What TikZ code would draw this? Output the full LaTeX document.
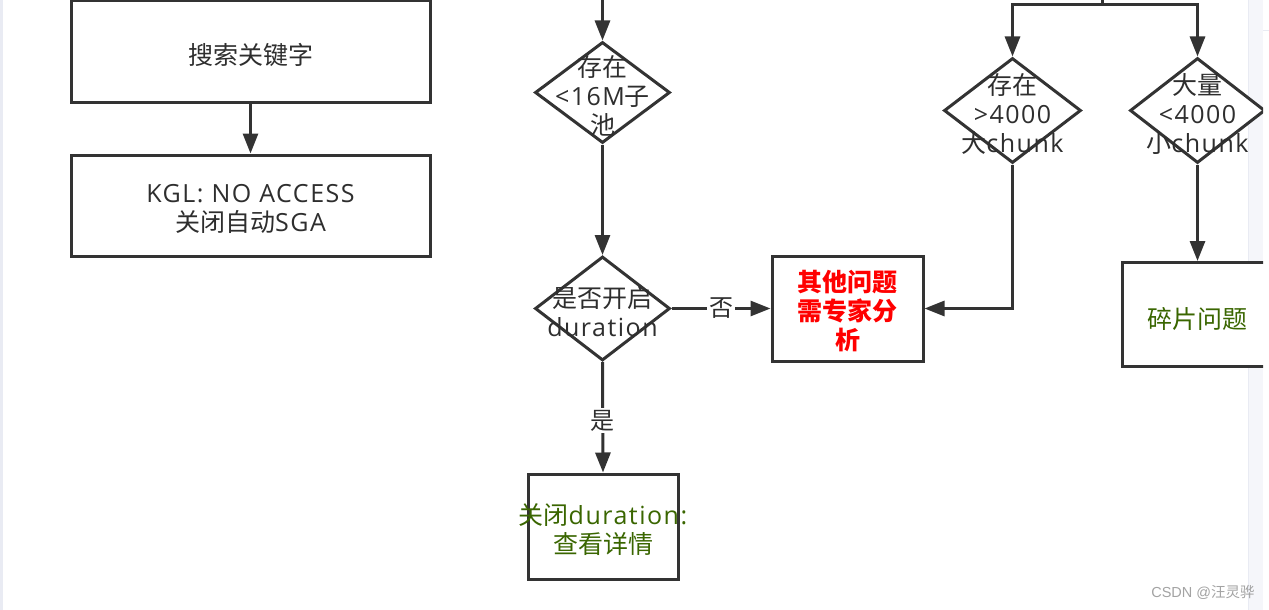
\documentclass[tikz,border=0pt]{standalone}
\usepackage{fontspec}
\setmainfont{Noto Sans CJK SC}
\newfontfamily\enfont[LetterSpace=6]{Open Sans}
\newfontfamily\wmfont{Liberation Sans}
\newcommand\en[1]{{\enfont #1}}
\usetikzlibrary{arrows.meta,shapes.geometric}
\definecolor{ln}{HTML}{333333}
\definecolor{tx}{HTML}{2E2E2E}
\definecolor{gr}{HTML}{3A6600}
\definecolor{rd}{HTML}{FF0000}
\definecolor{strip}{HTML}{F5F6FA}
\definecolor{stripl}{HTML}{E9EBF3}
\definecolor{wm}{HTML}{A3A3A3}
\begin{document}
\begin{tikzpicture}[x=1pt,y=-1pt,
  box/.style={draw=ln, line width=3pt, rectangle, inner sep=0pt, fill=white},
  dia/.style={draw=ln, line width=3pt, diamond, inner sep=0pt, fill=white, minimum width=136pt, minimum height=104pt},
  txt/.style={text=tx, align=center, font=\fontsize{25}{29}\selectfont, inner sep=0pt},
  arr/.style={draw=ln, line width=3pt, -{Triangle[length=20pt,width=15pt]}},
  conn/.style={draw=ln, line width=3pt},
  lab/.style={fill=white, inner sep=2pt, text=tx, font=\fontsize{24}{28}\selectfont},
]
\useasboundingbox (0,0) rectangle (1269,610);
% background
\fill[white] (0,0) rectangle (1269,610);
\fill[stripl] (0,0) rectangle (2.7,610);
\fill[strip] (1248,0) rectangle (1263,610);
\draw[stripl, line width=0.8pt] (1248,0) -- (1248,610);
\draw[stripl, line width=0.8pt] (1263,30) -- (1269,30);

\begin{scope}
\clip (0,-5) rectangle (1263,615);
% left column
\node[box, minimum width=359pt, minimum height=102pt] (b1) at (250.5,51.5) {};
\node[txt] (b1t) at (250.5,54.5) {搜索关键字};
\node[box, minimum width=359pt, minimum height=101pt] (b2) at (250.5,205.5) {};
\node[txt] (b2t) at (250.5,208.5) {\en{KGL: NO ACCESS}\\关闭自动\en{SGA}};
\draw[arr] (b1.south) -- (b2.north);

% middle column
\coordinate (top1) at (602.5,-3);
\node[dia, minimum width=135pt, minimum height=101pt] (d1) at (602.5,92.5) {};
\node[txt] (d1t) at (602.5,96) {存在\\\en{<16M}子\\池};
\node[dia, minimum width=135pt, minimum height=104pt] (d2) at (602.5,308.5) {};
\node[txt] (d2t) at (602.5,311.5) {是否开启\\\en{duration}};
\node[box, minimum width=151pt, minimum height=105pt] (other) at (847.5,308.5) {};
\node[txt, text=rd, font=\fontsize{25}{29}\selectfont\bfseries] (othert) at (847.5,311) {其他问题\\需专家分\\析};
\node[box, minimum width=150pt, minimum height=105pt] (db) at (603,526.5) {};
\node[txt, text=gr] (dbt) at (603,530) {关闭\en{duration:}\\查看详情};
\draw[arr] (top1) -- (d1.north);
\draw[arr] (d1.south) -- (d2.north);
\draw[arr] (d2.east) -- node[lab] (no) {否} (other.west);
\draw[arr] (d2.south) -- node[lab, pos=0.53] (yes) {是} (db.north);

% right side
\coordinate (top2) at (1102,-3);
\coordinate (jn) at (1102,5);
\node[dia, minimum width=137pt, minimum height=105pt] (d3) at (1012.5,110.5) {};
\node[txt] (d3t) at (1012.5,114) {存在\\\en{>4000}\\大\en{chunk}};
\node[dia, minimum width=135pt, minimum height=105pt] (d4) at (1197.5,110.5) {};
\node[txt] (d4t) at (1197.5,114) {大量\\\en{<4000}\\小\en{chunk}};
\node[box, minimum width=150pt, minimum height=104pt] (frag) at (1197.5,314.5) {};
\node[txt, text=gr] (fragt) at (1197.5,319) {碎片问题};
\draw[conn] (top2) -- (jn);
\draw[arr] (jn) -| (d3.north);
\draw[arr] (jn) -| (d4.north);
\draw[arr] (d3.south) |- (other.east);
\draw[arr] (d4.south) -- (frag.north);
\end{scope}

\node[text=wm, inner sep=0pt, font=\fontsize{14.5}{16}\selectfont] (wmk) at (1203,592) {{\wmfont CSDN @}汪灵骅};
\end{tikzpicture}
\end{document}
